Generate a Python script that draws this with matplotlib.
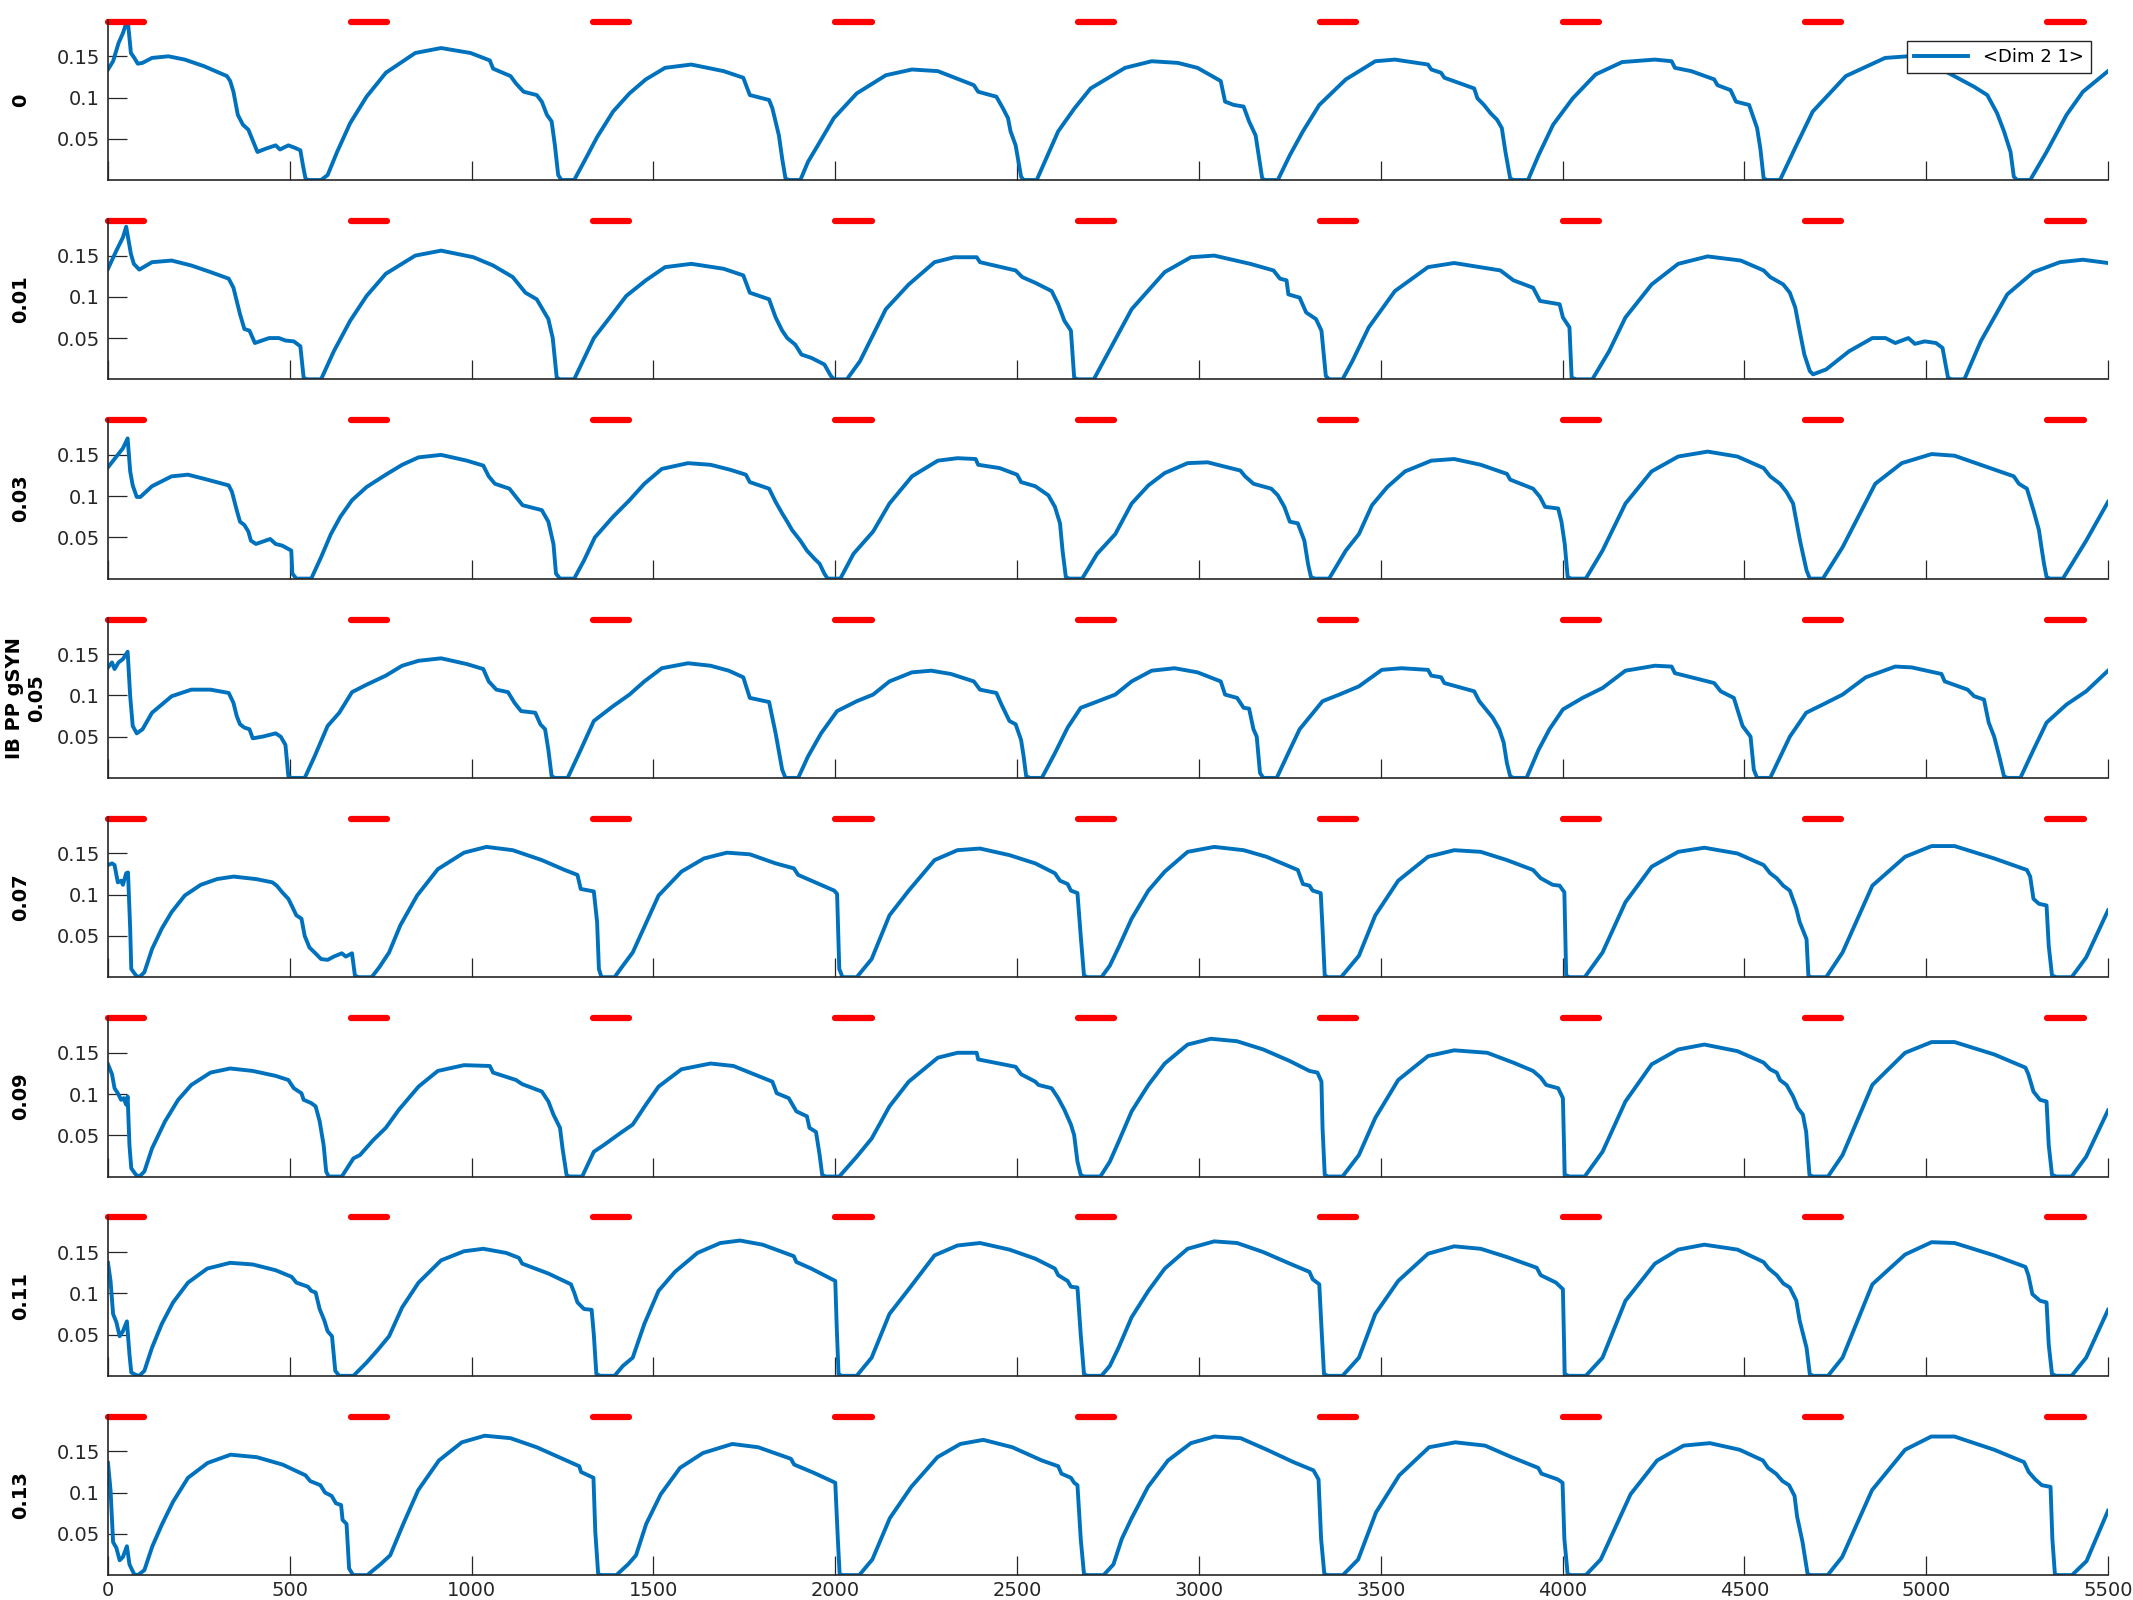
import numpy as np
import matplotlib
matplotlib.use('Agg')
import matplotlib.pyplot as plt

# ylabels of the 8 stacked panels (IB PP gSYN values)
panel_labels = ['0', '0.01', '0.03', 'IB PP gSYN\n0.05', '0.07', '0.09', '0.11', '0.13']

# red stimulus bars
stim_onsets = [0, 667, 1333, 2000, 2667, 3333, 4000, 4667, 5333]
stim_dur = 100
stim_level = 0.192

xticks = list(range(0, 5501, 500))
yticks = [0.05, 0.1, 0.15]
ytick_labels = ['0.05', '0.1', '0.15']

# traces (time, value)
trace_000 = [(0, 0.134), (14, 0.144), (29, 0.166), (41, 0.178), (54, 0.195), (63, 0.154), (71, 0.149), (82, 0.141),
             (95, 0.142), (121, 0.148), (166, 0.150), (211, 0.146), (264, 0.138), (327, 0.126), (336, 0.120),
             (345, 0.107), (357, 0.079), (371, 0.067), (386, 0.061), (398, 0.048), (411, 0.034), (434, 0.038),
             (461, 0.042), (473, 0.037), (496, 0.042), (514, 0.039), (529, 0.036), (536, 0.018), (543, 0.002),
             (550, 0), (586, 0), (604, 0.006), (630, 0.034), (666, 0.069), (711, 0.101), (764, 0.130), (845, 0.154),
             (916, 0.160), (997, 0.154), (1050, 0.145), (1059, 0.135), (1107, 0.126), (1122, 0.117), (1143, 0.107),
             (1179, 0.103), (1193, 0.095), (1207, 0.079), (1220, 0.071), (1229, 0.042), (1238, 0.006), (1247, 0),
             (1282, 0), (1309, 0.022), (1345, 0.052), (1389, 0.083), (1434, 0.105), (1479, 0.122), (1532, 0.136),
             (1604, 0.140), (1693, 0.132), (1747, 0.124), (1765, 0.103), (1818, 0.097), (1827, 0.087), (1845, 0.054),
             (1854, 0.026), (1863, 0.002), (1872, 0), (1904, 0), (1925, 0.022), (1952, 0.042), (1996, 0.075),
             (2059, 0.105), (2139, 0.127), (2211, 0.134), (2282, 0.132), (2381, 0.115), (2393, 0.107), (2443, 0.101),
             (2461, 0.087), (2475, 0.075), (2482, 0.059), (2496, 0.042), (2511, 0.004), (2518, 0), (2554, 0),
             (2613, 0.059), (2658, 0.087), (2702, 0.111), (2797, 0.136), (2870, 0.144), (2942, 0.142), (2996, 0.136),
             (3060, 0.120), (3072, 0.095), (3096, 0.091), (3123, 0.089), (3138, 0.071), (3156, 0.054), (3163, 0.034),
             (3174, 0.002), (3181, 0), (3217, 0), (3250, 0.030), (3286, 0.059), (3331, 0.091), (3404, 0.122),
             (3485, 0.144), (3539, 0.146), (3630, 0.140), (3639, 0.134), (3666, 0.130), (3675, 0.124), (3757, 0.111),
             (3766, 0.099), (3784, 0.091), (3802, 0.081), (3820, 0.073), (3833, 0.063), (3843, 0.034), (3856, 0.002),
             (3865, 0), (3905, 0), (3934, 0.030), (3974, 0.067), (4028, 0.099), (4091, 0.128), (4164, 0.143),
             (4254, 0.146), (4300, 0.144), (4309, 0.136), (4354, 0.132), (4417, 0.122), (4426, 0.115), (4462, 0.109),
             (4477, 0.095), (4513, 0.091), (4535, 0.063), (4544, 0.038), (4553, 0.002), (4562, 0), (4598, 0),
             (4643, 0.042), (4688, 0.083), (4779, 0.126), (4887, 0.148), (4950, 0.150), (5060, 0.130), (5132, 0.113),
             (5168, 0.103), (5195, 0.081), (5214, 0.059), (5232, 0.034), (5241, 0.004), (5250, 0), (5286, 0),
             (5331, 0.034), (5386, 0.079), (5431, 0.107), (5500, 0.132)]

trace_001 = [(0, 0.134), (23, 0.156), (41, 0.172), (50, 0.185), (63, 0.152), (71, 0.140), (86, 0.133), (121, 0.142),
             (175, 0.144), (229, 0.138), (282, 0.130), (332, 0.122), (345, 0.111), (363, 0.079), (375, 0.061),
             (389, 0.059), (404, 0.044), (443, 0.050), (470, 0.050), (488, 0.047), (511, 0.046), (529, 0.040),
             (538, 0.002), (546, 0), (586, 0), (621, 0.034), (666, 0.071), (711, 0.101), (764, 0.128), (845, 0.150),
             (916, 0.156), (1005, 0.148), (1059, 0.138), (1113, 0.124), (1148, 0.105), (1179, 0.097), (1211, 0.073),
             (1223, 0.050), (1234, 0.002), (1243, 0), (1282, 0), (1336, 0.050), (1380, 0.075), (1425, 0.101),
             (1479, 0.120), (1532, 0.136), (1604, 0.140), (1693, 0.134), (1747, 0.126), (1765, 0.105), (1818, 0.097),
             (1836, 0.075), (1854, 0.059), (1868, 0.050), (1890, 0.042), (1907, 0.030), (1934, 0.026), (1952, 0.022),
             (1970, 0.018), (1988, 0.004), (1997, 0), (2032, 0), (2068, 0.022), (2139, 0.085), (2202, 0.115),
             (2273, 0.142), (2327, 0.148), (2389, 0.148), (2398, 0.142), (2496, 0.132), (2514, 0.124), (2550, 0.117),
             (2595, 0.107), (2613, 0.091), (2630, 0.071), (2648, 0.059), (2657, 0.002), (2666, 0), (2711, 0),
             (2815, 0.085), (2906, 0.130), (2978, 0.148), (3042, 0.150), (3141, 0.140), (3205, 0.132), (3223, 0.122),
             (3241, 0.120), (3246, 0.103), (3277, 0.099), (3295, 0.081), (3322, 0.073), (3337, 0.059), (3349, 0.004),
             (3358, 0), (3395, 0), (3422, 0.022), (3467, 0.063), (3539, 0.107), (3630, 0.136), (3702, 0.141),
             (3829, 0.132), (3865, 0.120), (3919, 0.111), (3938, 0.095), (3992, 0.091), (4001, 0.075), (4019, 0.063),
             (4025, 0.002), (4037, 0), (4082, 0), (4128, 0.034), (4173, 0.075), (4245, 0.115), (4318, 0.140),
             (4399, 0.149), (4490, 0.144), (4553, 0.132), (4571, 0.124), (4607, 0.115), (4625, 0.105), (4640, 0.087),
             (4652, 0.059), (4665, 0.030), (4680, 0.010), (4689, 0.006), (4725, 0.012), (4788, 0.034), (4852, 0.050),
             (4888, 0.050), (4915, 0.044), (4951, 0.050), (4969, 0.043), (4996, 0.046), (5027, 0.044), (5045, 0.038),
             (5060, 0.002), (5069, 0), (5105, 0), (5150, 0.046), (5223, 0.103), (5295, 0.130), (5368, 0.142),
             (5431, 0.145), (5500, 0.141)]

trace_003 = [(0, 0.135), (23, 0.148), (41, 0.158), (54, 0.170), (61, 0.130), (68, 0.113), (79, 0.099), (89, 0.099),
             (121, 0.112), (175, 0.124), (220, 0.126), (273, 0.120), (332, 0.113), (341, 0.105), (354, 0.083),
             (363, 0.069), (375, 0.065), (386, 0.057), (393, 0.046), (407, 0.042), (446, 0.048), (461, 0.042),
             (479, 0.040), (496, 0.036), (504, 0.034), (507, 0.006), (518, 0), (559, 0), (586, 0.026), (613, 0.054),
             (639, 0.075), (671, 0.095), (711, 0.111), (764, 0.126), (809, 0.138), (854, 0.147), (916, 0.150),
             (987, 0.143), (1032, 0.137), (1047, 0.124), (1064, 0.115), (1104, 0.109), (1122, 0.099), (1140, 0.089),
             (1193, 0.083), (1211, 0.069), (1225, 0.042), (1232, 0.006), (1243, 0), (1282, 0), (1309, 0.022),
             (1339, 0.050), (1389, 0.075), (1434, 0.095), (1475, 0.115), (1523, 0.133), (1595, 0.140), (1657, 0.138),
             (1711, 0.132), (1754, 0.126), (1765, 0.117), (1818, 0.109), (1836, 0.093), (1854, 0.079), (1868, 0.069),
             (1881, 0.059), (1904, 0.046), (1922, 0.034), (1943, 0.024), (1957, 0.018), (1970, 0.006), (1979, 0),
             (2014, 0), (2050, 0.030), (2104, 0.057), (2149, 0.091), (2211, 0.124), (2282, 0.143), (2336, 0.146),
             (2386, 0.145), (2393, 0.138), (2452, 0.134), (2500, 0.126), (2511, 0.117), (2550, 0.112), (2586, 0.101),
             (2604, 0.087), (2618, 0.067), (2625, 0.034), (2634, 0.002), (2643, 0), (2679, 0), (2720, 0.030),
             (2770, 0.054), (2815, 0.091), (2861, 0.113), (2906, 0.128), (2969, 0.140), (3024, 0.141), (3114, 0.131),
             (3127, 0.124), (3150, 0.115), (3199, 0.109), (3217, 0.101), (3235, 0.087), (3250, 0.069), (3272, 0.067),
             (3290, 0.046), (3300, 0.018), (3308, 0.002), (3319, 0), (3358, 0), (3404, 0.034), (3440, 0.054),
             (3476, 0.089), (3518, 0.111), (3567, 0.130), (3639, 0.143), (3702, 0.145), (3775, 0.138), (3847, 0.127),
             (3856, 0.120), (3919, 0.109), (3938, 0.099), (3952, 0.087), (3988, 0.085), (3997, 0.069), (4006, 0.042),
             (4014, 0.002), (4024, 0), (4064, 0), (4110, 0.034), (4173, 0.091), (4245, 0.130), (4318, 0.148),
             (4399, 0.154), (4481, 0.148), (4553, 0.134), (4571, 0.124), (4598, 0.115), (4616, 0.105), (4634, 0.091),
             (4653, 0.046), (4671, 0.010), (4680, 0), (4716, 0), (4770, 0.038), (4860, 0.115), (4933, 0.140),
             (5015, 0.151), (5078, 0.149), (5150, 0.138), (5241, 0.124), (5255, 0.115), (5277, 0.109), (5295, 0.083),
             (5310, 0.059), (5317, 0.038), (5324, 0.018), (5331, 0.002), (5340, 0), (5376, 0), (5440, 0.046),
             (5500, 0.093)]

trace_005 = [(0, 0.134), (11, 0.140), (18, 0.132), (29, 0.140), (41, 0.144), (54, 0.153), (61, 0.099), (68, 0.063),
             (79, 0.054), (95, 0.059), (121, 0.079), (175, 0.099), (229, 0.107), (282, 0.107), (332, 0.103),
             (345, 0.091), (354, 0.075), (363, 0.065), (375, 0.061), (389, 0.059), (398, 0.048), (425, 0.050),
             (461, 0.054), (475, 0.050), (488, 0.040), (496, 0.002), (505, 0), (541, 0), (568, 0.026), (604, 0.063),
             (636, 0.079), (671, 0.104), (711, 0.113), (764, 0.124), (809, 0.136), (854, 0.142), (916, 0.145),
             (987, 0.138), (1032, 0.132), (1047, 0.117), (1068, 0.107), (1100, 0.104), (1118, 0.091), (1136, 0.081),
             (1175, 0.079), (1189, 0.065), (1202, 0.059), (1211, 0.034), (1220, 0.002), (1229, 0), (1264, 0),
             (1300, 0.034), (1336, 0.069), (1389, 0.087), (1434, 0.101), (1475, 0.117), (1523, 0.133), (1595, 0.139),
             (1657, 0.136), (1707, 0.130), (1747, 0.122), (1765, 0.097), (1818, 0.092), (1836, 0.054), (1854, 0.010),
             (1863, 0), (1898, 0), (1925, 0.026), (1961, 0.054), (2005, 0.081), (2059, 0.093), (2104, 0.101),
             (2149, 0.117), (2211, 0.128), (2264, 0.130), (2318, 0.126), (2381, 0.117), (2398, 0.107), (2443, 0.103),
             (2457, 0.089), (2479, 0.069), (2496, 0.065), (2511, 0.046), (2518, 0.026), (2525, 0.002), (2536, 0),
             (2568, 0), (2604, 0.030), (2639, 0.061), (2675, 0.085), (2711, 0.091), (2770, 0.101), (2815, 0.117),
             (2870, 0.130), (2933, 0.133), (2996, 0.128), (3060, 0.117), (3072, 0.101), (3105, 0.097), (3123, 0.085),
             (3138, 0.084), (3150, 0.059), (3159, 0.050), (3168, 0.006), (3177, 0), (3214, 0), (3250, 0.034),
             (3277, 0.059), (3340, 0.093), (3386, 0.101), (3440, 0.111), (3503, 0.131), (3557, 0.133), (3630, 0.131),
             (3639, 0.124), (3666, 0.122), (3675, 0.115), (3757, 0.105), (3771, 0.093), (3793, 0.081), (3808, 0.073),
             (3826, 0.059), (3838, 0.043), (3847, 0.018), (3856, 0.002), (3865, 0), (3901, 0), (3934, 0.034),
             (3964, 0.059), (4001, 0.083), (4055, 0.097), (4110, 0.109), (4173, 0.130), (4254, 0.136), (4300, 0.135),
             (4309, 0.127), (4417, 0.115), (4435, 0.105), (4471, 0.097), (4481, 0.083), (4495, 0.063), (4517, 0.050),
             (4526, 0.010), (4535, 0), (4571, 0), (4625, 0.050), (4670, 0.079), (4716, 0.089), (4770, 0.101),
             (4834, 0.122), (4915, 0.135), (4960, 0.134), (5042, 0.126), (5051, 0.117), (5114, 0.107), (5132, 0.099),
             (5159, 0.095), (5172, 0.067), (5187, 0.050), (5201, 0.026), (5214, 0.002), (5223, 0), (5259, 0),
             (5295, 0.034), (5331, 0.067), (5386, 0.089), (5440, 0.105), (5500, 0.130)]

trace_007 = [(0, 0.136), (11, 0.138), (18, 0.136), (27, 0.115), (36, 0.117), (41, 0.112), (50, 0.126), (55, 0.127),
             (61, 0.059), (64, 0.010), (77, 0.002), (86, 0), (100, 0.006), (121, 0.034), (148, 0.059), (175, 0.079),
             (211, 0.099), (255, 0.112), (300, 0.119), (345, 0.122), (407, 0.119), (452, 0.115), (464, 0.111),
             (479, 0.103), (496, 0.095), (505, 0.087), (518, 0.075), (532, 0.071), (541, 0.050), (554, 0.036),
             (568, 0.030), (586, 0.022), (604, 0.021), (621, 0.025), (643, 0.029), (654, 0.025), (671, 0.029),
             (679, 0.002), (689, 0), (725, 0), (746, 0.012), (773, 0.030), (804, 0.063), (850, 0.099), (907, 0.131),
             (979, 0.151), (1041, 0.158), (1113, 0.154), (1193, 0.142), (1256, 0.130), (1291, 0.124), (1300, 0.107),
             (1336, 0.104), (1345, 0.067), (1350, 0.010), (1357, 0), (1393, 0), (1416, 0.014), (1443, 0.030),
             (1479, 0.065), (1514, 0.099), (1577, 0.128), (1639, 0.144), (1702, 0.151), (1765, 0.149), (1836, 0.138),
             (1886, 0.132), (1898, 0.124), (1997, 0.105), (2005, 0.101), (2011, 0.010), (2020, 0), (2059, 0),
             (2100, 0.022), (2149, 0.075), (2202, 0.105), (2273, 0.142), (2336, 0.154), (2398, 0.156), (2479, 0.148),
             (2550, 0.138), (2604, 0.126), (2618, 0.117), (2639, 0.113), (2648, 0.105), (2666, 0.102), (2675, 0.050),
             (2684, 0.002), (2693, 0), (2732, 0), (2755, 0.014), (2779, 0.036), (2815, 0.071), (2861, 0.105),
             (2906, 0.128), (2969, 0.152), (3042, 0.158), (3123, 0.154), (3186, 0.146), (3250, 0.134), (3272, 0.130),
             (3286, 0.113), (3304, 0.111), (3313, 0.105), (3335, 0.102), (3340, 0.059), (3346, 0.002), (3355, 0),
             (3391, 0), (3440, 0.026), (3485, 0.075), (3548, 0.117), (3630, 0.146), (3702, 0.154), (3775, 0.152),
             (3847, 0.142), (3919, 0.130), (3940, 0.120), (3973, 0.112), (3992, 0.111), (4005, 0.103), (4010, 0.002),
             (4019, 0), (4061, 0), (4110, 0.030), (4173, 0.091), (4245, 0.134), (4318, 0.152), (4390, 0.157),
             (4481, 0.150), (4553, 0.136), (4571, 0.126), (4589, 0.120), (4607, 0.111), (4625, 0.105), (4643, 0.083),
             (4652, 0.067), (4671, 0.046), (4676, 0.002), (4683, 0), (4725, 0), (4770, 0.030), (4852, 0.111),
             (4942, 0.146), (5015, 0.159), (5078, 0.159), (5187, 0.144), (5277, 0.130), (5286, 0.122), (5295, 0.095),
             (5310, 0.089), (5331, 0.087), (5337, 0.038), (5346, 0.002), (5358, 0), (5400, 0), (5440, 0.024),
             (5500, 0.081)]

trace_009 = [(0, 0.136), (11, 0.124), (18, 0.107), (27, 0.101), (36, 0.093), (43, 0.095), (50, 0.087), (54, 0.097),
             (59, 0.038), (64, 0.010), (77, 0.002), (86, 0), (100, 0.006), (121, 0.034), (157, 0.067), (193, 0.093),
             (229, 0.111), (282, 0.126), (336, 0.131), (398, 0.128), (461, 0.122), (496, 0.117), (511, 0.107),
             (532, 0.101), (538, 0.093), (559, 0.089), (571, 0.085), (582, 0.067), (593, 0.038), (600, 0.006),
             (607, 0), (643, 0), (675, 0.022), (693, 0.026), (729, 0.044), (764, 0.059), (800, 0.081), (854, 0.109),
             (907, 0.128), (979, 0.135), (1050, 0.134), (1059, 0.126), (1122, 0.117), (1139, 0.112), (1193, 0.103),
             (1211, 0.091), (1225, 0.075), (1243, 0.059), (1250, 0.034), (1261, 0.002), (1268, 0), (1304, 0),
             (1336, 0.030), (1363, 0.038), (1407, 0.052), (1443, 0.063), (1479, 0.087), (1514, 0.109), (1577, 0.130),
             (1657, 0.137), (1720, 0.134), (1827, 0.115), (1839, 0.101), (1872, 0.095), (1893, 0.079), (1922, 0.073),
             (1929, 0.059), (1947, 0.054), (1957, 0.026), (1964, 0.002), (1973, 0), (2011, 0), (2059, 0.024),
             (2100, 0.046), (2149, 0.085), (2202, 0.115), (2282, 0.144), (2336, 0.150), (2389, 0.150), (2393, 0.142),
             (2496, 0.133), (2511, 0.124), (2550, 0.115), (2559, 0.111), (2595, 0.107), (2613, 0.095), (2630, 0.081),
             (2648, 0.063), (2657, 0.050), (2666, 0.018), (2675, 0.002), (2684, 0), (2729, 0), (2755, 0.018),
             (2779, 0.042), (2815, 0.079), (2861, 0.111), (2906, 0.137), (2969, 0.160), (3033, 0.167), (3105, 0.164),
             (3177, 0.154), (3250, 0.140), (3304, 0.128), (3326, 0.126), (3337, 0.115), (3340, 0.059), (3346, 0.002),
             (3355, 0), (3395, 0), (3440, 0.026), (3485, 0.071), (3548, 0.117), (3630, 0.146), (3702, 0.153),
             (3793, 0.150), (3865, 0.138), (3919, 0.128), (3940, 0.120), (3955, 0.111), (3988, 0.107), (4001, 0.095),
             (4006, 0.002), (4019, 0), (4061, 0), (4110, 0.030), (4173, 0.091), (4245, 0.136), (4318, 0.154),
             (4390, 0.160), (4481, 0.152), (4553, 0.138), (4571, 0.130), (4589, 0.126), (4598, 0.117), (4616, 0.111),
             (4634, 0.097), (4647, 0.083), (4661, 0.075), (4670, 0.054), (4679, 0.002), (4688, 0), (4730, 0),
             (4770, 0.026), (4852, 0.111), (4942, 0.150), (5015, 0.163), (5078, 0.163), (5187, 0.148), (5273, 0.132),
             (5281, 0.124), (5295, 0.103), (5313, 0.093), (5331, 0.091), (5337, 0.038), (5346, 0.002), (5358, 0),
             (5400, 0), (5440, 0.024), (5500, 0.080)]

trace_011 = [(0, 0.137), (7, 0.115), (14, 0.075), (23, 0.065), (32, 0.048), (41, 0.054), (52, 0.066), (59, 0.026),
             (64, 0.004), (77, 0.001), (86, 0), (100, 0.006), (121, 0.034), (148, 0.063), (179, 0.089), (220, 0.113),
             (273, 0.130), (336, 0.137), (398, 0.135), (461, 0.128), (505, 0.120), (518, 0.113), (550, 0.108),
             (559, 0.103), (571, 0.101), (582, 0.081), (595, 0.067), (604, 0.054), (616, 0.048), (625, 0.006),
             (636, 0), (675, 0), (711, 0.016), (743, 0.032), (773, 0.048), (809, 0.083), (854, 0.113), (916, 0.140),
             (979, 0.151), (1032, 0.154), (1095, 0.149), (1130, 0.143), (1139, 0.136), (1211, 0.124), (1273, 0.111),
             (1282, 0.101), (1291, 0.089), (1309, 0.081), (1330, 0.080), (1336, 0.050), (1343, 0.002), (1354, 0),
             (1393, 0), (1416, 0.012), (1443, 0.022), (1475, 0.063), (1514, 0.103), (1559, 0.126), (1621, 0.149),
             (1684, 0.161), (1738, 0.164), (1800, 0.159), (1886, 0.145), (1893, 0.138), (1934, 0.130), (2000, 0.115),
             (2004, 0.059), (2009, 0.002), (2018, 0), (2059, 0), (2100, 0.022), (2149, 0.075), (2202, 0.105),
             (2273, 0.146), (2336, 0.158), (2398, 0.161), (2479, 0.153), (2550, 0.142), (2604, 0.130), (2613, 0.122),
             (2639, 0.115), (2648, 0.108), (2666, 0.107), (2675, 0.050), (2684, 0.002), (2693, 0), (2732, 0),
             (2755, 0.012), (2779, 0.034), (2815, 0.071), (2861, 0.103), (2906, 0.130), (2969, 0.154), (3042, 0.163),
             (3105, 0.161), (3177, 0.150), (3250, 0.136), (3304, 0.126), (3313, 0.117), (3331, 0.111), (3337, 0.059),
             (3344, 0.002), (3355, 0), (3395, 0), (3440, 0.022), (3485, 0.075), (3548, 0.115), (3630, 0.148),
             (3702, 0.157), (3775, 0.154), (3847, 0.144), (3929, 0.131), (3940, 0.122), (3982, 0.113), (4001, 0.105),
             (4006, 0.002), (4017, 0), (4064, 0), (4110, 0.022), (4173, 0.091), (4254, 0.136), (4318, 0.153),
             (4390, 0.159), (4481, 0.153), (4553, 0.138), (4567, 0.130), (4589, 0.122), (4607, 0.112), (4625, 0.107),
             (4643, 0.091), (4652, 0.067), (4671, 0.034), (4680, 0.002), (4689, 0), (4730, 0), (4770, 0.022),
             (4852, 0.111), (4942, 0.147), (5015, 0.162), (5078, 0.161), (5187, 0.146), (5273, 0.132), (5281, 0.122),
             (5292, 0.099), (5313, 0.091), (5331, 0.089), (5337, 0.038), (5346, 0.002), (5358, 0), (5400, 0),
             (5440, 0.022), (5500, 0.080)]

trace_013 = [(0, 0.136), (7, 0.103), (14, 0.040), (23, 0.033), (32, 0.018), (41, 0.022), (52, 0.035), (59, 0.013),
             (72, 0.001), (82, 0), (100, 0.006), (122, 0.035), (149, 0.062), (179, 0.089), (220, 0.118), (274, 0.136),
             (337, 0.146), (409, 0.143), (480, 0.134), (543, 0.121), (556, 0.114), (584, 0.109), (597, 0.100),
             (615, 0.096), (627, 0.087), (641, 0.085), (645, 0.067), (656, 0.062), (663, 0.008), (674, 0), (713, 0),
             (749, 0.013), (776, 0.024), (812, 0.062), (853, 0.103), (910, 0.139), (973, 0.161), (1036, 0.169),
             (1107, 0.166), (1179, 0.155), (1260, 0.139), (1296, 0.132), (1301, 0.125), (1335, 0.118), (1340, 0.053),
             (1348, 0.001), (1358, 0), (1398, 0), (1430, 0.013), (1452, 0.024), (1480, 0.062), (1520, 0.098),
             (1573, 0.130), (1636, 0.148), (1717, 0.159), (1788, 0.155), (1878, 0.141), (1887, 0.134), (1941, 0.124),
             (2000, 0.112), (2007, 0.044), (2012, 0.001), (2021, 0), (2066, 0), (2102, 0.019), (2150, 0.069),
             (2209, 0.107), (2281, 0.143), (2344, 0.159), (2407, 0.164), (2487, 0.155), (2568, 0.139), (2613, 0.132),
             (2622, 0.123), (2648, 0.118), (2657, 0.112), (2666, 0.109), (2675, 0.044), (2684, 0.001), (2693, 0),
             (2738, 0), (2765, 0.013), (2788, 0.044), (2815, 0.069), (2860, 0.107), (2915, 0.139), (2978, 0.160),
             (3042, 0.168), (3115, 0.166), (3187, 0.152), (3260, 0.137), (3315, 0.127), (3329, 0.116), (3336, 0.044),
             (3345, 0.001), (3355, 0), (3396, 0), (3438, 0.019), (3487, 0.076), (3551, 0.121), (3633, 0.155),
             (3705, 0.161), (3787, 0.157), (3860, 0.143), (3933, 0.130), (3942, 0.123), (3987, 0.116), (4000, 0.112),
             (4005, 0.044), (4014, 0.001), (4024, 0), (4064, 0), (4105, 0.019), (4187, 0.098), (4260, 0.139),
             (4333, 0.157), (4405, 0.160), (4487, 0.152), (4551, 0.139), (4565, 0.130), (4587, 0.123), (4605, 0.114),
             (4623, 0.109), (4638, 0.096), (4645, 0.071), (4660, 0.040), (4674, 0.001), (4683, 0), (4729, 0),
             (4769, 0.022), (4851, 0.103), (4942, 0.152), (5014, 0.168), (5078, 0.168), (5187, 0.152), (5269, 0.137),
             (5282, 0.125), (5300, 0.116), (5318, 0.109), (5342, 0.107), (5347, 0.044), (5354, 0.001), (5363, 0),
             (5401, 0), (5441, 0.017), (5500, 0.078)]

traces = [trace_000, trace_001, trace_003, trace_005, trace_007, trace_009, trace_011, trace_013]

blue = '#0072BD'
axcol = '#262626'

fig = plt.figure(figsize=(21.33, 16), dpi=100)

ax_left = 108 / 2133
ax_width = 2000 / 2133
ax_height = 160 / 1600

for i in range(8):
    bottom = 1 - (180 + 199.3 * i) / 1600
    ax = fig.add_axes([ax_left, bottom, ax_width, ax_height])
    t, v = np.array(traces[i]).T
    line, = ax.plot(t, v, color=blue, lw=2.8, label='<Dim 2 1>')
    for s in stim_onsets:
        ax.plot([s, s + stim_dur], [stim_level, stim_level], color='red', lw=4.5,
                solid_capstyle='round', clip_on=False)
    ax.set_xlim(0, 5500)
    ax.set_ylim(0, 0.194)
    ax.set_xticks(xticks)
    ax.set_yticks(yticks)
    ax.set_yticklabels(ytick_labels)
    if i < 7:
        ax.set_xticklabels([])
    for side in ['top', 'right']:
        ax.spines[side].set_visible(False)
    for side in ['left', 'bottom']:
        ax.spines[side].set_color(axcol)
        ax.spines[side].set_linewidth(1.2)
    ax.tick_params(direction='in', length=14, width=0.9, colors=axcol, labelsize=14, pad=6)
    ax.tick_params(axis='x', pad=4)
    ax.set_ylabel(panel_labels[i], fontsize=14, fontweight='bold', color='black')
    if i == 3:
        ax.yaxis.set_label_coords(-0.031, 0.5)
    else:
        ax.yaxis.set_label_coords(-0.039, 0.5)
    if i == 0:
        leg = ax.legend(handles=[line], loc='upper right', bbox_to_anchor=(0.9915, 0.869),
                        borderaxespad=0, fontsize=13, handlelength=3, fancybox=False,
                        framealpha=1, edgecolor=axcol)
        leg.get_frame().set_linewidth(1.0)

fig.savefig('out.png', dpi=100)
